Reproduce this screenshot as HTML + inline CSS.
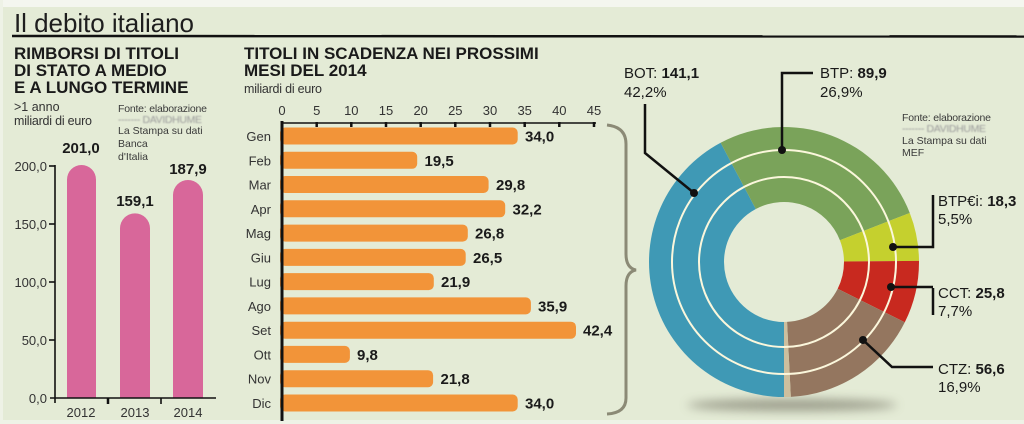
<!DOCTYPE html>
<html><head><meta charset="utf-8"><style>
html,body{margin:0;padding:0;background:#e4ebd6;}
svg{display:block;font-family:"Liberation Sans",sans-serif;}
</style></head><body>
<svg width="1024" height="424" viewBox="0 0 1024 424" xmlns="http://www.w3.org/2000/svg">
<defs>
<filter id="bl" x="-10%" y="-50%" width="120%" height="200%"><feGaussianBlur stdDeviation="0.7"/></filter>
<filter id="sh" x="-30%" y="-200%" width="160%" height="500%"><feGaussianBlur stdDeviation="5"/></filter>
</defs>
<rect x="0" y="0" width="1024" height="424" fill="#e4ebd6"/>
<rect x="0" y="0" width="1024" height="7" fill="#f4f6ef"/>
<rect x="0" y="420" width="1024" height="4" fill="#eef2e6"/>
<rect x="0" y="0" width="3" height="424" fill="#eef2e6"/>

<!-- Title -->
<text x="14" y="32" font-size="26" fill="#1e1e1e" textLength="180">Il debito italiano</text>
<line x1="12" y1="36" x2="1024" y2="36.5" stroke="#111" stroke-width="2.5"/>

<!-- LEFT PANEL -->
<g font-weight="bold" font-size="17" fill="#1a1a1a">
<text x="14" y="59">RIMBORSI DI TITOLI</text>
<text x="14" y="76">DI STATO A MEDIO</text>
<text x="14" y="93">E A LUNGO TERMINE</text>
</g>
<g font-size="12.5" fill="#333">
<text x="14" y="111">&gt;1 anno</text>
<text x="14" y="125" textLength="78">miliardi di euro</text>
</g>
<g font-size="10.5" fill="#3a3a3a">
<text x="118" y="112" textLength="89">Fonte: elaborazione</text>
<text x="118" y="123" fill="#9a9a9a" filter="url(#bl)" textLength="84">------- DAVIDHUME</text>
<text x="118" y="134">La Stampa su dati</text>
<text x="118" y="147">Banca</text>
<text x="118" y="160">d'Italia</text>
</g>
<!-- left bars -->
<g fill="#d8679a">
<path d="M67,398 V179.5 A14.5,14.5 0 0 1 96,179.5 V398 Z"/>
<path d="M120,398 V228.4 A15,15 0 0 1 150,228.4 V398 Z"/>
<path d="M173,398 V195 A15,15 0 0 1 203,195 V398 Z"/>
</g>
<g font-weight="bold" font-size="15" fill="#1a1a1a" text-anchor="middle">
<text x="81" y="153">201,0</text>
<text x="135" y="206">159,1</text>
<text x="188" y="174">187,9</text>
</g>
<g stroke="#111" stroke-width="1.6">
<line x1="55" y1="165" x2="55" y2="403"/>
<line x1="50" y1="398" x2="216" y2="398"/>
<line x1="49" y1="166" x2="55" y2="166"/>
<line x1="49" y1="224" x2="55" y2="224"/>
<line x1="49" y1="282" x2="55" y2="282"/>
<line x1="49" y1="340" x2="55" y2="340"/>
<line x1="108" y1="398" x2="108" y2="404" stroke-width="2.5"/>
<line x1="161" y1="398" x2="161" y2="404"/>
</g>
<g font-size="13" fill="#333" text-anchor="end">
<text x="47" y="171">200,0</text>
<text x="47" y="229">150,0</text>
<text x="47" y="287">100,0</text>
<text x="47" y="345">50,0</text>
<text x="47" y="403">0,0</text>
</g>
<g font-size="13" fill="#333" text-anchor="middle">
<text x="81" y="417">2012</text>
<text x="135" y="417">2013</text>
<text x="188" y="417">2014</text>
</g>

<!-- MIDDLE PANEL -->
<g font-weight="bold" font-size="17" fill="#1a1a1a">
<text x="244" y="59">TITOLI IN SCADENZA NEI PROSSIMI</text>
<text x="244" y="76">MESI DEL 2014</text>
</g>
<text x="244" y="93" font-size="12.5" fill="#333" textLength="78">miliardi di euro</text>
<g font-size="13" fill="#333" text-anchor="middle">
<text x="282" y="115">0</text>
<text x="316.7" y="115">5</text>
<text x="351.3" y="115">10</text>
<text x="386" y="115">15</text>
<text x="420.7" y="115">20</text>
<text x="455.3" y="115">25</text>
<text x="490" y="115">30</text>
<text x="524.7" y="115">35</text>
<text x="559.3" y="115">40</text>
<text x="594" y="115">45</text>
</g>
<g stroke="#111">
<line x1="281" y1="123" x2="596" y2="123" stroke-width="1.6"/>
<g stroke-width="2.5">
<line x1="316.7" y1="122" x2="316.7" y2="127"/>
<line x1="351.3" y1="122" x2="351.3" y2="127"/>
<line x1="386" y1="122" x2="386" y2="127"/>
<line x1="420.7" y1="122" x2="420.7" y2="127"/>
<line x1="455.3" y1="122" x2="455.3" y2="127"/>
<line x1="490" y1="122" x2="490" y2="127"/>
<line x1="524.7" y1="122" x2="524.7" y2="127"/>
<line x1="559.3" y1="122" x2="559.3" y2="127"/>
<line x1="594" y1="122" x2="594" y2="127"/>
</g>
</g>
<g fill="#f29439">
<rect x="280" y="127.5" width="237.7" height="17" rx="5"/>
<rect x="280" y="151.8" width="137.2" height="17" rx="5"/>
<rect x="280" y="176" width="208.6" height="17" rx="5"/>
<rect x="280" y="200.3" width="225.2" height="17" rx="5"/>
<rect x="280" y="224.6" width="187.8" height="17" rx="5"/>
<rect x="280" y="248.9" width="185.7" height="17" rx="5"/>
<rect x="280" y="273.1" width="153.8" height="17" rx="5"/>
<rect x="280" y="297.4" width="250.9" height="17" rx="5"/>
<rect x="280" y="321.7" width="296" height="17" rx="5"/>
<rect x="280" y="345.9" width="69.9" height="17" rx="5"/>
<rect x="280" y="370.2" width="153.1" height="17" rx="5"/>
<rect x="280" y="394.5" width="237.7" height="17" rx="5"/>
</g>
<line x1="282" y1="121" x2="282" y2="421" stroke="#111" stroke-width="3"/>
<g font-size="13" fill="#333" text-anchor="end">
<text x="271" y="141">Gen</text>
<text x="271" y="165.3">Feb</text>
<text x="271" y="189.5">Mar</text>
<text x="271" y="213.8">Apr</text>
<text x="271" y="238.1">Mag</text>
<text x="271" y="262.4">Giu</text>
<text x="271" y="286.6">Lug</text>
<text x="271" y="310.9">Ago</text>
<text x="271" y="335.2">Set</text>
<text x="271" y="359.4">Ott</text>
<text x="271" y="383.7">Nov</text>
<text x="271" y="408">Dic</text>
</g>
<g font-weight="bold" font-size="15" fill="#1a1a1a">
<text x="525" y="141.5">34,0</text>
<text x="424.5" y="165.8">19,5</text>
<text x="496" y="190">29,8</text>
<text x="512.5" y="214.3">32,2</text>
<text x="475" y="238.6">26,8</text>
<text x="473" y="262.9">26,5</text>
<text x="441" y="287.1">21,9</text>
<text x="538" y="311.4">35,9</text>
<text x="583" y="335.7">42,4</text>
<text x="357" y="359.9">9,8</text>
<text x="440.5" y="384.2">21,8</text>
<text x="525" y="408.5">34,0</text>
</g>
<!-- brace -->
<path d="M607,125 Q626,127 626,144 V254 Q626,268 636,270 Q626,272 626,286 V398 Q626,413 607,414" fill="none" stroke="#8b8a76" stroke-width="3"/>

<!-- DONUT -->
<ellipse cx="792" cy="405" rx="105" ry="6" fill="#7d7d6c" opacity="0.7" filter="url(#sh)"/>
<path d="M784,397 A135,135 0 0 1 720.62,142.81 L755.83,209.03 A60,60 0 0 0 784,322 Z" fill="#3f99b5"/>
<path d="M720.62,142.81 A135,135 0 0 1 909.78,212.95 L839.9,240.2 A60,60 0 0 0 755.83,209.03 Z" fill="#7aa35a"/>
<path d="M909.78,212.95 A135,135 0 0 1 918.99,260.82 L844,261.48 A60,60 0 0 0 839.9,240.2 Z" fill="#c5d02e"/>
<path d="M918.99,260.82 A135,135 0 0 1 904.81,322.24 L837.69,288.77 A60,60 0 0 0 844,261.48 Z" fill="#c8291f"/>
<path d="M904.81,322.24 A135,135 0 0 1 790.83,396.83 L787.04,321.92 A60,60 0 0 0 837.69,288.77 Z" fill="#94765f"/>
<path d="M790.83,396.83 A135,135 0 0 1 784,397 L784,322 A60,60 0 0 0 787.04,321.92 Z" fill="#cdbf9e"/>
<circle cx="784" cy="262" r="85" fill="none" stroke="#fbf7dc" stroke-width="2"/>
<circle cx="784" cy="262" r="112" fill="none" stroke="#fbf7dc" stroke-width="2"/>

<!-- leaders -->
<g stroke="#111" stroke-width="2.5" fill="none">
<polyline points="645,104 645,153 694,193"/>
<polyline points="813,73 782,73 782,150"/>
<polyline points="933,195 933,247 893,247"/>
<polyline points="933,288 933,315"/>
<line x1="891" y1="287" x2="933" y2="287"/>
<polyline points="863,340 892,367 933,367"/>
</g>
<g fill="#111">
<circle cx="694" cy="193" r="4"/>
<circle cx="782" cy="150" r="4"/>
<circle cx="893" cy="247" r="4"/>
<circle cx="891" cy="287" r="4"/>
<circle cx="863" cy="340" r="4"/>
</g>
<g font-size="15" fill="#1a1a1a">
<text x="624" y="78">BOT: <tspan font-weight="bold">141,1</tspan></text>
<text x="624" y="97">42,2%</text>
<text x="820" y="78">BTP: <tspan font-weight="bold">89,9</tspan></text>
<text x="820" y="97">26,9%</text>
<text x="938" y="206">BTP€i: <tspan font-weight="bold">18,3</tspan></text>
<text x="938" y="224">5,5%</text>
<text x="938" y="298">CCT: <tspan font-weight="bold">25,8</tspan></text>
<text x="938" y="316">7,7%</text>
<text x="938" y="374">CTZ: <tspan font-weight="bold">56,6</tspan></text>
<text x="938" y="392">16,9%</text>
</g>
<g font-size="10.5" fill="#3a3a3a">
<text x="902" y="121" textLength="89">Fonte: elaborazione</text>
<text x="902" y="132" fill="#9a9a9a" filter="url(#bl)" textLength="84">------- DAVIDHUME</text>
<text x="902" y="144">La Stampa su dati</text>
<text x="902" y="156">MEF</text>
</g>
</svg>
</body></html>
